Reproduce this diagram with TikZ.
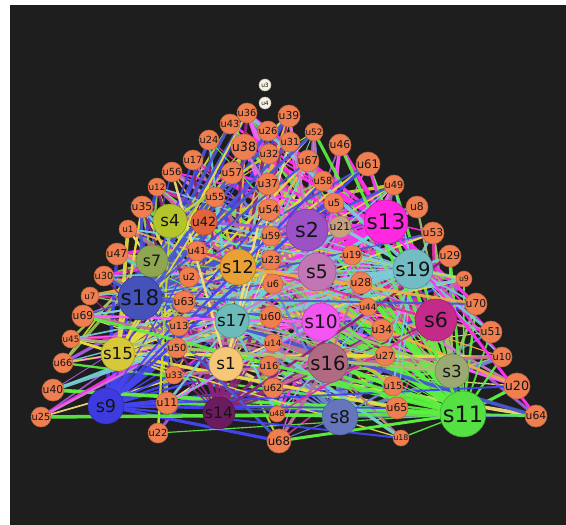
\documentclass[tikz,border=0pt]{standalone}
\usepackage{fontspec}
\setmainfont{DejaVu Sans}
\definecolor{bgdark}{HTML}{1E1E1E}
\definecolor{uorange}{HTML}{EF7F50}
\definecolor{ured}{HTML}{E2643A}
\definecolor{utan}{HTML}{C9A07E}
\definecolor{ucream}{HTML}{F7F1E3}
\definecolor{cs1}{HTML}{F6C777}
\definecolor{cs2}{HTML}{9A52C6}
\definecolor{cs3}{HTML}{9AAA72}
\definecolor{cs4}{HTML}{B4C52C}
\definecolor{cs5}{HTML}{C276B6}
\definecolor{cs6}{HTML}{C42A8A}
\definecolor{cs7}{HTML}{8EA652}
\definecolor{cs8}{HTML}{6576BC}
\definecolor{cs9}{HTML}{3D3BE0}
\definecolor{cs10}{HTML}{F255F2}
\definecolor{cs11}{HTML}{55E044}
\definecolor{cs12}{HTML}{E9A136}
\definecolor{cs13}{HTML}{FF28E0}
\definecolor{cs14}{HTML}{6C1C5E}
\definecolor{cs15}{HTML}{D6C838}
\definecolor{cs16}{HTML}{B06A84}
\definecolor{cs17}{HTML}{6CBABA}
\definecolor{cs18}{HTML}{4452BA}
\definecolor{cs19}{HTML}{74BCC4}
% brighter edge colours
\definecolor{ce1}{HTML}{F8E07A}
\definecolor{ce2}{HTML}{A45CE0}
\definecolor{ce3}{HTML}{A8C070}
\definecolor{ce4}{HTML}{C8DC30}
\definecolor{ce5}{HTML}{D07CD0}
\definecolor{ce6}{HTML}{E030A0}
\definecolor{ce7}{HTML}{A0C050}
\definecolor{ce8}{HTML}{6E84D8}
\definecolor{ce9}{HTML}{4444F0}
\definecolor{ce10}{HTML}{FF5CFF}
\definecolor{ce11}{HTML}{5CF040}
\definecolor{ce12}{HTML}{F0B040}
\definecolor{ce13}{HTML}{FF30F0}
\definecolor{ce14}{HTML}{8A2478}
\definecolor{ce15}{HTML}{E6DC40}
\definecolor{ce16}{HTML}{C07094}
\definecolor{ce17}{HTML}{70D0D0}
\definecolor{ce18}{HTML}{4A58D0}
\definecolor{ce19}{HTML}{7CCCD8}
\pgfdeclarelayer{bg}
\pgfdeclarelayer{edges}
\pgfsetlayers{bg,edges,main}
\begin{document}
\begin{tikzpicture}[x=1pt,y=-1pt,
  nd/.style={circle, inner sep=0pt, text=black!92, line width=0.5pt},
  edge/.style={line cap=round, opacity=0.92}]
\useasboundingbox (0,0) rectangle (566,525);
\begin{pgfonlayer}{bg}
\fill[white] (0,0) rectangle (566,525);
\fill[bgdark] (10,5) rectangle (566,525);
\end{pgfonlayer}
% s nodes
\foreach \n/\x/\y/\r in {1/226/364/17, 2/307/230/21, 3/452/371/17, 4/170/221/17,
  5/317/272/19, 6/436/320/21, 7/152/261/16, 8/340/417/18, 9/106/406/18,
  10/321/322/19, 11/463/414/23, 12/238/267/18, 13/386/222/22, 14/219/413/16,
  15/118/354/17, 16/328/363/20, 17/232/321/17, 18/140/298/22, 19/413/269/20}{
  \pgfmathsetmacro{\fs}{0.98*\r}
  \node[nd, fill=cs\n, draw=cs\n!75!black, minimum size=2*\r pt,
        font=\fontsize{\fs}{\fs}\selectfont] (s\n) at (\x,\y) {s\n};
}
% u nodes
\foreach \n/\x/\y/\r/\c in {1/128/229/9/uorange, 2/189/277/10/uorange, 5/334/203/10/uorange,
  6/273/284/10/uorange, 7/90/296/9/uorange, 8/417/207/11/uorange, 9/464/279/8/uorange,
  10/502/357/10/uorange, 11/167/403/11/uorange, 12/157/187/9/uorange, 13/179/326/10/uorange,
  14/273/343/9/uorange, 15/393/386/10/uorange, 16/269/366/10/uorange, 17/193/160/10/uorange,
  18/401/438/8/uorange, 19/352/255/10/uorange, 20/517/386/13/uorange, 21/340/227/11/utan,
  22/158/433/10/uorange, 23/271/260/10/uorange, 24/209/140/10/uorange, 25/41/417/10/uorange,
  26/268/131/10/uorange, 27/385/356/10/uorange, 28/361/283/11/uorange, 29/450/256/11/uorange,
  30/104/276/10/uorange, 31/290/142/10/uorange, 32/269/154/10/uorange, 33/174/375/9/uorange,
  34/382/330/11/uorange, 35/142/207/11/uorange, 36/247/113/10/uorange, 37/268/184/11/uorange,
  38/244/147/13/uorange, 39/289/116/11/uorange, 40/53/390/11/uorange, 41/197/251/10/uorange,
  42/204/222/13/ured, 43/230/124/10/uorange, 44/368/307/9/uorange, 45/71/339/9/uorange,
  46/340/145/11/uorange, 47/117/254/11/uorange, 48/277/414/8/uorange, 49/394/185/10/uorange,
  50/177/348/10/uorange, 51/491/332/11/uorange, 52/314/132/9/uorange, 53/433/233/11/uorange,
  54/269/210/11/uorange, 55/215/197/10/uorange, 56/172/172/10/uorange, 57/232/173/11/uorange,
  58/323/181/10/uorange, 59/271/236/10/uorange, 60/271/317/11/uorange, 61/368/164/12/uorange,
  62/273/388/10/uorange, 63/184/302/11/uorange, 64/536/416/11/uorange, 65/397/408/11/uorange,
  66/63/363/10/uorange, 67/308/161/11/uorange, 68/279/441/12/uorange, 69/83/316/11/uorange,
  70/476/304/11/uorange, 3/265/85/6/ucream, 4/265/103/6/ucream}{
  \pgfmathsetmacro{\fs}{0.98*\r}
  \node[nd, fill=\c, draw=\c!80!black, minimum size=2*\r pt,
        font=\fontsize{\fs}{\fs}\selectfont] (u\n) at (\x,\y) {u\n};
}
% edges
\begin{pgfonlayer}{edges}
\pgfmathsetseed{2718}
\foreach \s/\d in {1/27, 2/33, 3/26, 4/27, 5/30, 6/33, 7/25, 8/28, 9/32,
  10/31, 11/40, 12/28, 13/36, 14/25, 15/27, 16/31, 17/27, 18/35, 19/31}{
  \foreach \k in {1,...,\d}{
    \pgfmathrandominteger{\t}{1}{68}
    \pgfmathtruncatemacro{\uu}{\t<3 ? \t : \t+2}
    \pgfmathsetmacro{\w}{0.9+2.8*rnd}
    \draw[edge, line width=\w pt, draw=ce\s] (s\s) -- (u\uu);
  }
}
\foreach \t in {1,...,68}{
  \pgfmathtruncatemacro{\uu}{\t<3 ? \t : \t+2}
  \pgfmathrandominteger{\ss}{1}{19}
  \pgfmathsetmacro{\w}{0.9+2.2*rnd}
  \draw[edge, line width=\w pt, draw=ce\ss] (s\ss) -- (u\uu);
}
\draw[edge, line width=3.5pt, draw=ce11] (s11) -- (u25);
\draw[edge, line width=3pt, draw=ce11] (s11) -- (u69);
\draw[edge, line width=3pt, draw=ce11] (s11) -- (u68);
\draw[edge, line width=2.5pt, draw=ce11] (s11) -- (u64);
\draw[edge, line width=2pt, draw=ce18] (s18) -- (u70);
\end{pgfonlayer}
\end{tikzpicture}
\end{document}
